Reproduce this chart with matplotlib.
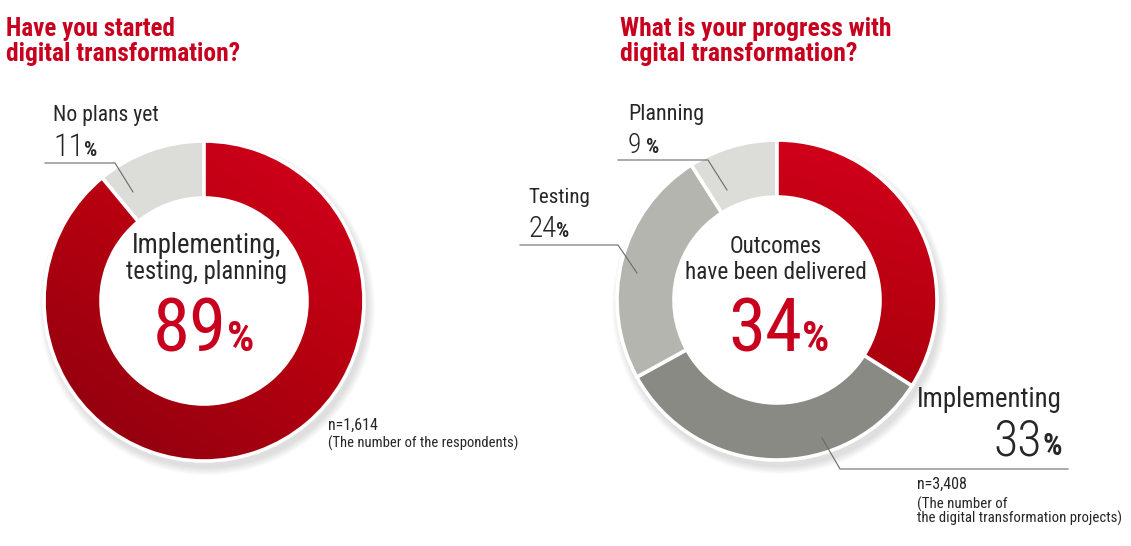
import numpy as np
import matplotlib
matplotlib.use("Agg")
import matplotlib.pyplot as plt
from matplotlib import font_manager
from matplotlib.colors import LinearSegmentedColormap

# data
start_labels = ["Implementing,\ntesting, planning", "No plans yet"]
start_share = [89, 11]
start_n = "1,614"

progress_labels = ["Outcomes\nhave been delivered", "Implementing", "Testing", "Planning"]
progress_share = [34, 33, 24, 9]
progress_n = "3,408"

titles = ["Have you started\ndigital transformation?",
          "What is your progress with\ndigital transformation?"]

# pick a narrow font if there is one
names = {f.name for f in font_manager.fontManager.ttflist}
FONT = "DejaVu Sans"
for cand in ["Roboto Condensed", "Liberation Sans Narrow", "Open Sans Condensed", "Roboto"]:
    if cand in names:
        FONT = cand
        break
plt.rcParams["font.family"] = [FONT, "DejaVu Sans"]

RED = "#c8001e"
INK = "#262626"
LINE = "#6a6a6a"

fig = plt.figure(figsize=(11.31, 5.46), dpi=100)
ax = fig.add_axes([0, 0, 1, 1])
ax.set_xlim(0, 1131)
ax.set_ylim(546, 0)
renderer = fig.canvas.get_renderer()


def fit(x, y, s, width, ha="left", **kw):
    # set the font size so the text is `width` pixels wide
    t = ax.text(x, y, s, fontsize=20, ha=ha, va="baseline", **kw)
    w = t.get_window_extent(renderer).width
    t.set_fontsize(20 * width / w)
    return t


def number(x, y, value, size, pct_size, gap=0, color=INK, weight="normal", ha="left"):
    # value followed by a smaller bold percent sign
    t = ax.text(x, y, f"{value}", fontsize=size, ha="left", va="baseline",
                color=color, fontweight=weight)
    p = ax.text(x, y, "%", fontsize=pct_size, ha="left", va="baseline",
                color=color, fontweight="bold")
    tw = t.get_window_extent(renderer).width
    pw = p.get_window_extent(renderer).width
    if ha == "right":
        x0 = x - tw - gap - pw
    else:
        x0 = x
    t.set_x(x0)
    p.set_x(x0 + tw + gap)


def donut(cx, cy, values, colors, red_dir):
    R, width = 160, 57
    wedges, _ = ax.pie(values, colors=colors, startangle=-90, counterclock=True,
                       center=(cx, cy), radius=R,
                       wedgeprops=dict(width=width, edgecolor="white", linewidth=2.6))
    # gradient on the red slice
    n = 200
    gx, gy = np.meshgrid(np.linspace(-1, 1, n), np.linspace(-1, 1, n))
    grad = gx * red_dir[0] + gy * red_dir[1]
    cmap = LinearSegmentedColormap.from_list("r", ["#8a000f", "#b3000f", "#d6001c"])
    im = ax.imshow(grad, extent=(cx - R, cx + R, cy + R, cy - R), origin="upper",
                   cmap=cmap, zorder=wedges[0].get_zorder() + 0.1)
    im.set_clip_path(wedges[0])
    wedges[0].set_zorder(wedges[0].get_zorder() + 0.2)
    wedges[0].set_facecolor("none")
    return wedges


# soft shadow under both rings
for cx, cy in [(204, 301), (777, 300)]:
    for k in range(8):
        ax.add_patch(plt.Circle((cx + 3, cy + 6), 160 + 1 + k, color="#000000",
                                alpha=0.015, lw=0, zorder=0))

# left donut
donut(204, 301, start_share, [RED, "#dcdcd9"], (0.55, -0.8))
# right donut
donut(777, 300, progress_share, [RED, "#8a8a84", "#b5b5b0", "#dcdcd8"], (0.3, -1.0))
for cx, cy in [(204, 301), (777, 300)]:
    ax.add_patch(plt.Circle((cx, cy), 103, color="white", lw=0, zorder=3))

# titles
title_w = [(169, 234), (270, 238)]
for x, t, (w1, w2) in zip([6, 620], titles, title_w):
    l1, l2 = t.split("\n")
    fit(x, 36, l1, w1, color=RED, fontweight="bold")
    fit(x, 61, l2, w2, color=RED, fontweight="bold")

# left chart labels
fit(53, 121, start_labels[1], 106, color=INK)
number(53, 156, start_share[1], 23, 15, weight="light")
ax.plot([45, 115, 133], [163, 163, 192], color=LINE, lw=0.8, zorder=4)

c1, c2 = start_labels[0].split("\n")
fit(207, 253, c1, 150, ha="center", color=INK, zorder=5)
fit(207, 279, c2, 160, ha="center", color=INK, zorder=5)
number(153, 351, start_share[0], 54, 31, color=RED)

fit(328, 430, f"n={start_n}", 50, color=INK)
fit(328, 448, "(The number of the respondents)", 190, color=INK)

# right chart labels
o1, o2 = progress_labels[0].split("\n")
fit(776, 253, o1, 92, ha="center", color=INK, zorder=5)
fit(776, 279, o2, 182, ha="center", color=INK, zorder=5)
number(728, 351, progress_share[0], 54, 31, color=RED)

fit(917, 407, progress_labels[1], 145, color=INK)
number(1062, 455, progress_share[1], 36, 22, weight="light", ha="right")
ax.plot([822, 840, 1068], [438, 469, 469], color=LINE, lw=0.8, zorder=4)

fit(528, 203, progress_labels[2], 62, color=INK)
number(528, 237, progress_share[2], 21, 15, weight="light")
ax.plot([520, 618, 637], [245, 245, 273], color=LINE, lw=0.8, zorder=4)

fit(628, 120, progress_labels[3], 76, color=INK)
number(628, 153, progress_share[3], 20, 15, gap=5, weight="light")
ax.plot([618, 708, 727], [160, 160, 190], color=LINE, lw=0.8, zorder=4)

fit(917, 489, f"n={progress_n}", 50, color=INK)
fit(917, 509, "(The number of", 90, color=INK)
fit(917, 523, "the digital transformation projects)", 203, color=INK)

ax.set_xlim(0, 1131)
ax.set_ylim(546, 0)
ax.set_aspect("equal")
ax.axis("off")

fig.savefig("out.png", dpi=100, facecolor="white")
